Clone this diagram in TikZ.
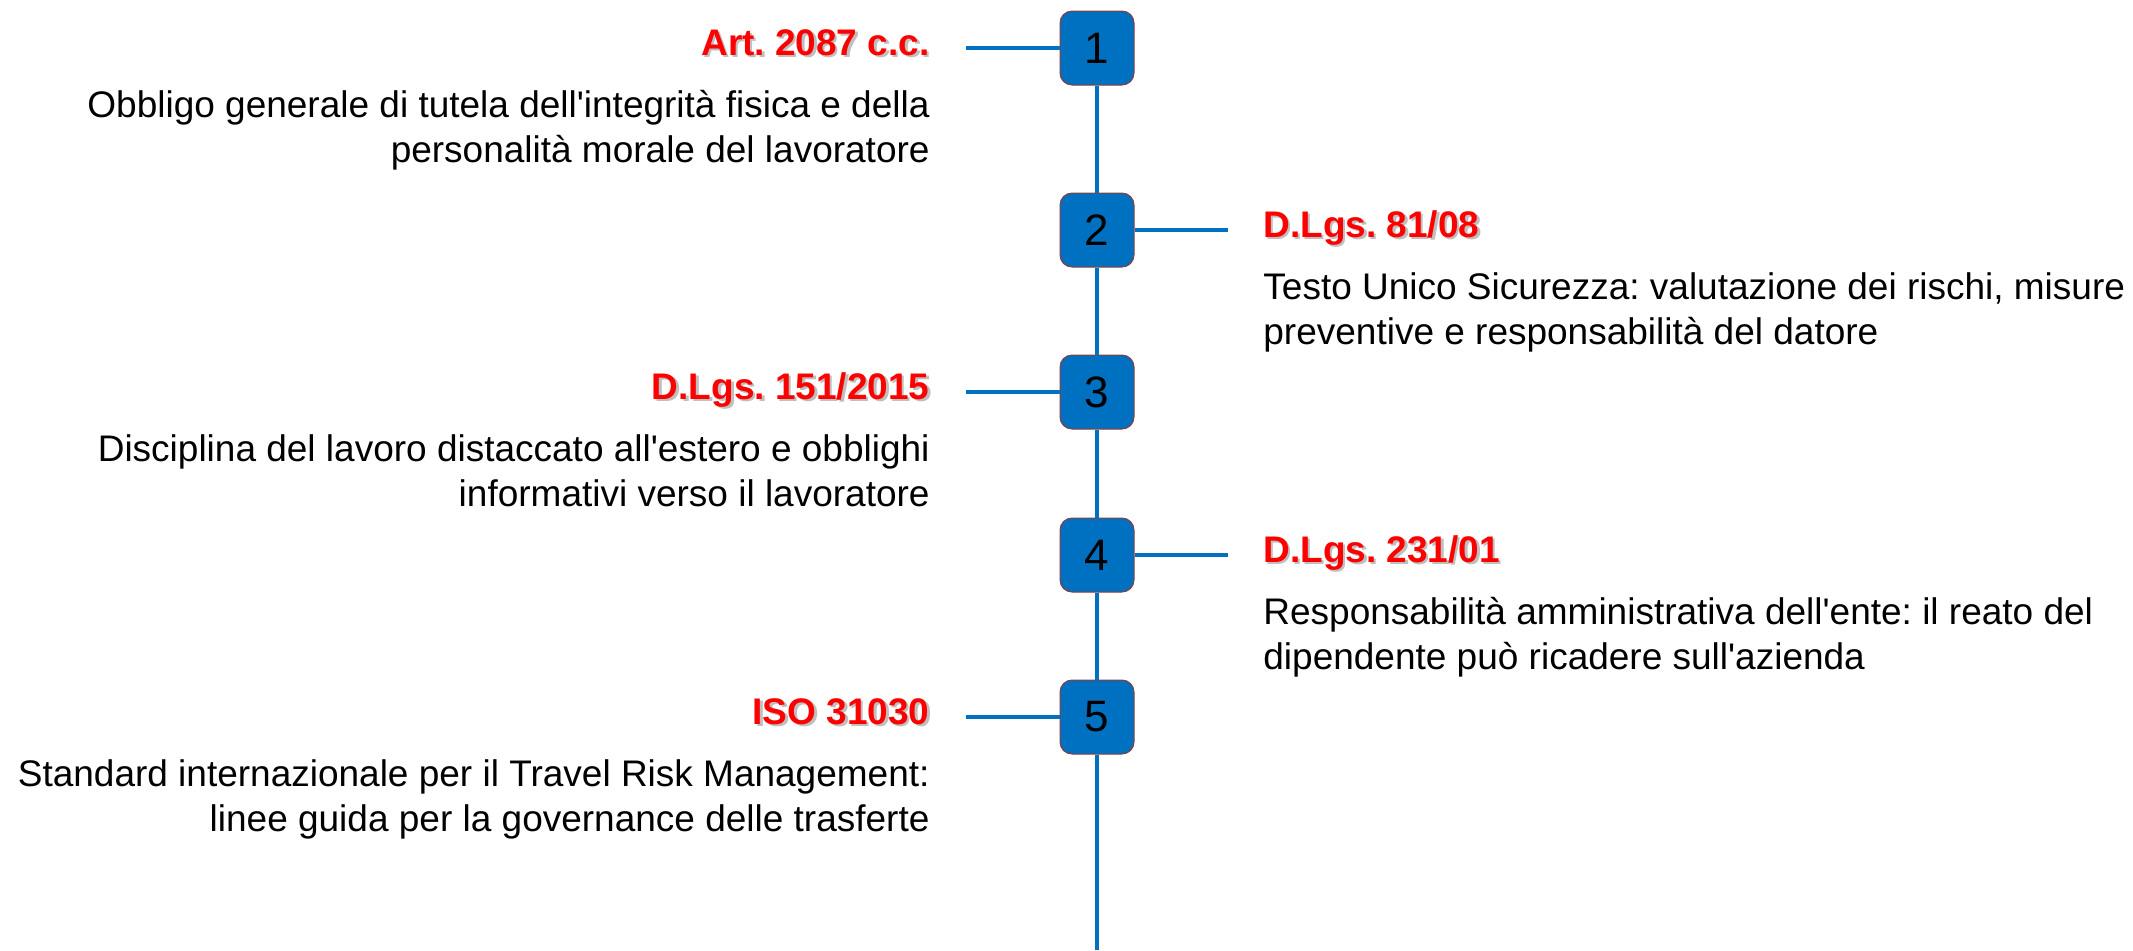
\documentclass[tikz,border=0pt]{standalone}
\usepackage{fontspec}
\newfontfamily\arial{Liberation Sans}
\definecolor{tlblue}{HTML}{0070C0}
\definecolor{tlborder}{HTML}{8E3B3B}
\definecolor{tlred}{HTML}{FF0000}
\frenchspacing
\begin{document}
\begin{tikzpicture}[x=0.5pt,y=-0.5pt,
  numbox/.style={draw=tlborder,line width=0.5pt,fill=tlblue,rounded corners=6pt,
    minimum width=37pt,minimum height=37pt,inner sep=0pt,
    font=\arial\fontsize{22}{26}\selectfont,text=black},
  tline/.style={draw=tlblue,line width=2.2pt},
  ttl/.style={inner sep=0pt,font=\frenchspacing\arial\bfseries\fontsize{18.5}{22}\selectfont,text=tlred},
  ttlshadow/.style={inner sep=0pt,font=\frenchspacing\arial\bfseries\fontsize{18.5}{22}\selectfont,text=black,opacity=0.25},
  dsc/.style={inner sep=0pt,font=\frenchspacing\arial\fontsize{18.5}{22.5}\selectfont,text=black}]
\useasboundingbox (0,0) rectangle (2133,950);
% boxes
\node[numbox] (b1) at (1097,48) {1};
\node[numbox] (b2) at (1097,230) {2};
\node[numbox] (b3) at (1097,392) {3};
\node[numbox] (b4) at (1097,555) {4};
\node[numbox] (b5) at (1097,717) {5};
\coordinate (bend) at (1097,950);
\coordinate (l1) at (966,48);
\coordinate (r2) at (1228,230);
\coordinate (l3) at (966,392);
\coordinate (r4) at (1228,555);
\coordinate (l5) at (966,717);
% spine
\draw[tline] (b1.south) -- (b2.north);
\draw[tline] (b2.south) -- (b3.north);
\draw[tline] (b3.south) -- (b4.north);
\draw[tline] (b4.south) -- (b5.north);
\draw[tline] (b5.south) -- (bend);
% branches
\draw[tline] (l1) -- (b1.west);
\draw[tline] (b2.east) -- (r2);
\draw[tline] (l3) -- (b3.west);
\draw[tline] (b4.east) -- (r4);
\draw[tline] (l5) -- (b5.west);
% titles (shadow + text)
\node[ttlshadow,anchor=base east] (s1) at (932.5,57.5) {Art. 2087 c.c.};
\node[ttl,anchor=base east] (t1) at (930,55) {Art. 2087 c.c.};
\node[ttlshadow,anchor=base west] (s2) at (1265.5,239.5) {D.Lgs. 81/08};
\node[ttl,anchor=base west] (t2) at (1263,237) {D.Lgs. 81/08};
\node[ttlshadow,anchor=base east] (s3) at (932.5,401.5) {D.Lgs. 151/2015};
\node[ttl,anchor=base east] (t3) at (930,399) {D.Lgs. 151/2015};
\node[ttlshadow,anchor=base west] (s4) at (1265.5,564.5) {D.Lgs. 231/01};
\node[ttl,anchor=base west] (t4) at (1263,562) {D.Lgs. 231/01};
\node[ttlshadow,anchor=base east] (s5) at (932.5,726.5) {ISO 31030};
\node[ttl,anchor=base east] (t5) at (930,724) {ISO 31030};
% descriptions
\node[dsc,anchor=base east] (d1a) at (930,117) {Obbligo generale di tutela dell'integrità fisica e della};
\node[dsc,anchor=base east] (d1b) at (930,162) {personalità morale del lavoratore};
\node[dsc,anchor=base west] (d2a) at (1263,299) {Testo Unico Sicurezza: valutazione dei rischi, misure};
\node[dsc,anchor=base west] (d2b) at (1263,344) {preventive e responsabilità del datore};
\node[dsc,anchor=base east] (d3a) at (930,461) {Disciplina del lavoro distaccato all'estero e obblighi};
\node[dsc,anchor=base east] (d3b) at (930,506) {informativi verso il lavoratore};
\node[dsc,anchor=base west] (d4a) at (1263,624) {Responsabilità amministrativa dell'ente: il reato del};
\node[dsc,anchor=base west] (d4b) at (1263,669) {dipendente può ricadere sull'azienda};
\node[dsc,anchor=base east] (d5a) at (930,786) {Standard internazionale per il Travel Risk Management:};
\node[dsc,anchor=base east] (d5b) at (930,831) {linee guida per la governance delle trasferte};
\end{tikzpicture}
\end{document}
